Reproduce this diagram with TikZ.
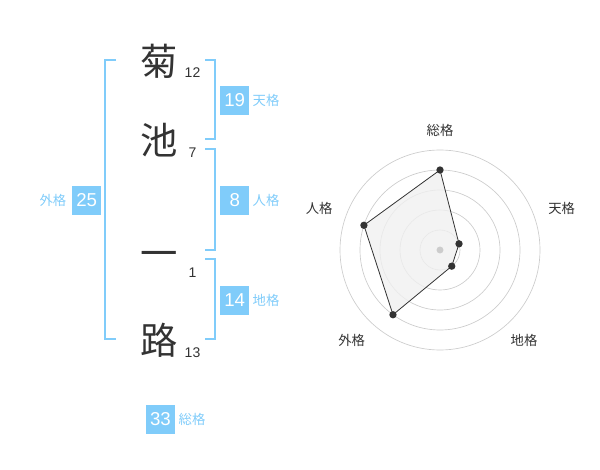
\documentclass[tikz,border=0pt]{standalone}
\usepackage{fontspec}
\setmainfont{Liberation Sans}
\newfontfamily\jpfont{Noto Sans CJK JP}
\definecolor{kakublue}{RGB}{128,204,250}
\definecolor{inkgray}{RGB}{51,51,51}
\definecolor{ringgray}{RGB}{204,204,204}
\definecolor{areagray}{RGB}{240,240,240}
\tikzstyle{kanji}=[font=\jpfont\fontsize{28}{28}\selectfont, text=inkgray, inner sep=0]
\tikzstyle{strokes}=[font=\fontsize{10.5}{10.5}\selectfont, text=inkgray, inner sep=0]
\tikzstyle{kakubox}=[fill=kakublue, text=white, inner sep=0, minimum size=21.75pt,
                     font=\fontsize{14}{14}\selectfont]
\tikzstyle{kakulabel}=[font=\jpfont\fontsize{10}{10}\selectfont, text=kakublue, inner sep=0]
\tikzstyle{bracket}=[draw=kakublue, line width=1.5pt]
\tikzstyle{ring}=[draw=ringgray, line width=0.5pt]
\tikzstyle{vertex}=[circle, fill=inkgray, inner sep=0, minimum size=5.5pt]
\tikzstyle{axislabel}=[font=\jpfont\fontsize{10}{10}\selectfont, text=inkgray, inner sep=0]
\begin{document}
\begin{tikzpicture}[x=0.75pt, y=-0.75pt]
        \useasboundingbox (0, 0) rectangle (600, 470);
        % name, one character per row
        \node[kanji]   (K1) at (159, 61)    {菊};
        \node[kanji]   (K2) at (159, 140)   {池};
        \node[kanji]   (K3) at (159, 259)   {一};
        \node[kanji]   (K4) at (159, 340)   {路};
        \node[strokes] (S1) at (192.5, 73)  {12};
        \node[strokes] (S2) at (192.5, 152.5) {7};
        \node[strokes] (S3) at (192.5, 272.5) {1};
        \node[strokes] (S4) at (192.5, 352.5) {13};
        % brackets
        \draw[bracket] (116, 60) -- (105, 60) -- (105, 339.5) -- (116, 339.5);
        \draw[bracket] (205, 60) -- (214.5, 60) -- (214.5, 139.5) -- (205, 139.5);
        \draw[bracket] (205, 149.5) -- (214.5, 149.5) -- (214.5, 250) -- (205, 250);
        \draw[bracket] (205, 259.5) -- (214.5, 259.5) -- (214.5, 339.5) -- (205, 339.5);
        % scores
        \node[kakubox]   (Ten)  at (234.7, 100.5) {19};
        \node[kakubox]   (Jin)  at (234.7, 200.5) {8};
        \node[kakubox]   (Chi)  at (234.7, 300.5) {14};
        \node[kakubox]   (Gai)  at (86.7, 200.5)  {25};
        \node[kakubox]   (Sou)  at (160.5, 419)   {33};
        \node[kakulabel] (TenL) at (266, 100.5)   {天格};
        \node[kakulabel] (JinL) at (266, 200.5)   {人格};
        \node[kakulabel] (ChiL) at (266, 300.5)   {地格};
        \node[kakulabel] (GaiL) at (53, 200.5)    {外格};
        \node[kakulabel] (SouL) at (192, 419)     {総格};
        % radar chart
        \begin{scope}[shift={(440, 250)}, x=0.75pt, y=0.75pt]
            \foreach \r in {20, 40, 60, 80, 100}
                \draw[ring] (0, 0) circle[radius=0.75*\r pt];
            \coordinate (PSou) at (90:80);
            \coordinate (PTen) at (18:20);
            \coordinate (PChi) at (-54:20);
            \coordinate (PGai) at (-126:80);
            \coordinate (PJin) at (162:80);
            \filldraw[fill=areagray, fill opacity=0.8, draw=inkgray, line width=0.6pt]
                (PSou) -- (PTen) -- (PChi) -- (PGai) -- (PJin) -- cycle;
            \fill[ringgray] (0, 0) circle[radius=2.6pt];
            \foreach \p in {PSou, PTen, PChi, PGai, PJin}
                \node[vertex] at (\p) {};
            \node[axislabel] (ASou) at (0, 119.3)     {総格};
            \node[axislabel] (ATen) at (121.7, 41.7)  {天格};
            \node[axislabel] (AChi) at (84, -90)      {地格};
            \node[axislabel] (AGai) at (-88.3, -90)   {外格};
            \node[axislabel] (AJin) at (-120.8, 41.7) {人格};
        \end{scope}
    \end{tikzpicture}
\end{document}
